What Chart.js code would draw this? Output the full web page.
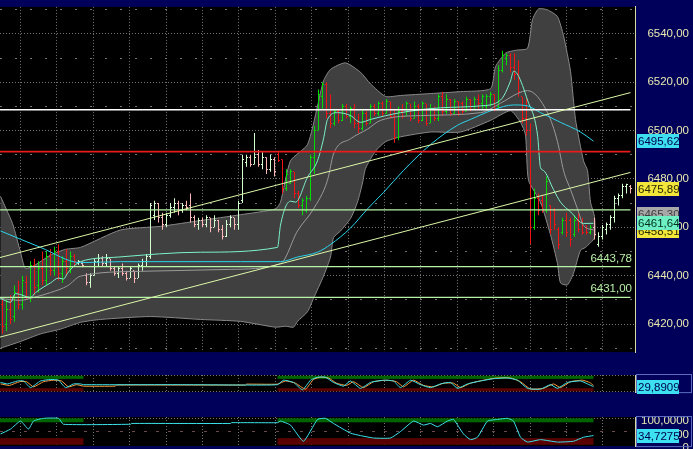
<!DOCTYPE html>
<html>
<head>
<meta charset="utf-8">
<title>Chart</title>
<script src="https://cdn.jsdelivr.net/npm/chart.js"></script>
<style>
  html, body { margin: 0; padding: 0; width: 693px; height: 449px; overflow: hidden; background: #00005a; }
  canvas { position: absolute; left: 0; }
  #main { top: 0; }
  #osc1 { top: 359px; }
  #osc2 { top: 399px; }
</style>
</head>
<body>
<canvas id="main" width="693" height="359"></canvas>
<canvas id="osc1" width="693" height="40"></canvas>
<canvas id="osc2" width="693" height="54"></canvas>
<script>
// price bars, one per slot
const opens = [
  6428,6420,6426,6423,6433,6428,6437,6431,6444,6436,
  6443,6438,6448,6442,6450,6441,6446,6443,6448,6445.5,
  6445,6440,6437,6440,6446,6447,6445,6447,6443,6441,
  6443,6441,6439,6442,6439,6444,6446,6448,6465,6470,
  6464,6461,6465,6468,6470,6467,6469,6469,6464,6461,
  6463,6461,6464,6460,6463,6459,6456,6461,6464,6461,
  6471,6487,6489,6486,6490,6486,6489,6484,6488,6490,
  6488,6476,6478,6483,6474,6469,6467,6472,6489,6500,
  6514,6519,6507,6503,6508,6504,6510,6506,6509,6503,
  6501,6507,6503,6510,6507,6511,6507,6512,6506,6497,
  6508,6506,6511,6505,6510,6504,6511,6503,6509,6505,
  6514,6508,6513,6507,6512,6511,6508,6513,6510,6513,
  6511,6510,6514,6515,6510,6525,6530,6531,6526,6523,
  6514,6505,6500,6460,6472,6471,6467,6469,6467,6459,
  6458,6463,6463,6457,6463,6462,6460,6458,6460,6453,
  6456,6459,6461,6464,6472,6473,6477,6477
];
const highs = [
  6431,6430,6432,6436,6438,6440,6440,6446,6447,6446,
  6450,6450,6451,6452,6453,6448,6451,6450,6449,6446.5,
  6446,6441,6441,6447,6449,6448,6449,6447,6444,6444,
  6445,6442,6444,6442,6445,6447,6449,6470,6471,6470,
  6466,6466,6470,6472,6471,6470,6471,6474,6465,6464,
  6464,6465,6464,6465,6463,6461,6463,6465,6464,6471,
  6490,6490,6490,6499,6492,6491,6489,6490,6489,6491,
  6488,6484,6484,6483,6475,6472,6473,6490,6502,6517,
  6520,6520,6515,6509,6509,6511,6511,6510,6511,6507,
  6509,6508,6511,6511,6512,6512,6513,6512,6509,6510,
  6511,6512,6511,6512,6511,6512,6511,6511,6510,6515,
  6516,6515,6513,6513,6512,6512,6514,6513,6514,6515,
  6515,6515,6516,6515,6527,6533,6532,6532,6532,6529,
  6514,6513,6503,6476,6474,6473,6481,6469,6468,6460,
  6464,6466,6464,6465,6466,6464,6461,6461,6464,6458,
  6461,6462,6465,6473,6474,6478,6478,6477.5
];
const lows = [
  6416,6417,6420,6421,6426,6426,6430,6429,6432,6433,
  6436,6436,6440,6440,6438,6437,6440,6441,6444,6444.5,
  6443.5,6436,6435,6440,6444,6444,6444,6442,6440,6439,
  6440,6438,6439,6437,6439,6442,6444,6447,6463,6462,
  6459,6460,6464,6466,6465,6466,6467,6462,6460,6459,
  6460,6460,6458,6460,6458,6455,6456,6460,6459,6459,
  6470,6485,6485,6486,6485,6484,6482,6483,6481,6487,
  6474,6475,6478,6472,6468,6465,6466,6471,6482,6500,
  6509,6505,6501,6502,6503,6504,6505,6503,6501,6499,
  6500,6502,6503,6506,6506,6506,6507,6505,6495,6496,
  6505,6506,6504,6505,6503,6504,6502,6503,6504,6504,
  6506,6507,6506,6507,6506,6507,6508,6508,6509,6509,
  6509,6509,6510,6508,6509,6524,6527,6524,6521,6514,
  6503,6498,6453,6459,6465,6466,6466,6457,6459,6451,
  6457,6456,6452,6456,6458,6457,6457,6457,6455,6452,
  6455,6457,6459,6462,6469,6472,6474,6474
];
const closes = [
  6419,6426,6422,6433,6428,6438,6431,6444,6435,6443,
  6438,6448,6442,6450,6441,6446,6443,6448,6446,6445.8,
  6444,6437,6440,6446,6447,6445,6447,6443,6441,6443,
  6441,6439,6443,6439,6444,6446,6448,6469,6470,6464,
  6461,6465,6468,6470,6467,6469,6468,6464,6461,6463,
  6461,6464,6460,6463,6459,6456,6461,6464,6461,6470,
  6488,6489,6486,6489,6486,6489,6484,6488,6483,6487.5,
  6476,6482,6483,6474,6469,6471,6472,6489,6500,6515,
  6519,6507,6503,6508,6504,6510,6506,6509,6503,6501,
  6507,6503,6510,6507,6511,6507,6512,6506,6497,6508,
  6506,6511,6505,6510,6504,6511,6503,6509,6505,6514,
  6508,6513,6507,6512,6507,6508,6513,6510,6513,6511,
  6514,6514,6515,6509,6525,6531,6531,6526,6523,6516,
  6505,6500,6460,6472,6467,6467,6479,6459,6461,6453,
  6463,6458,6455,6463,6459,6458,6458,6460,6457,6456,
  6460,6461,6464,6472,6473,6477,6477.5,6475.89
];
// bar slots traded outside the main session (drawn pale)
const offSession = [[19, 68], [148, 157]];

// bollinger band and moving averages: [slot, price]
const bandUpper = [[-0.5,6472.8],[2.5,6461.6],[4.5,6449.7],[5.75,6443.0],[8.25,6444.5],[12,6448.5],[15.75,6450.9],[19.5,6451.7],[29.5,6458.9],[39.5,6460.4],[49.5,6462.8],[59.5,6465.2],[68.25,6467.6],[69.5,6470.4],[72,6487.5],[76.25,6494.2],[78.75,6510.1],[80.25,6520.5],[82,6525.3],[85.75,6528.0],[89.5,6524.1],[92,6519.3],[95.75,6514.1],[99.5,6514.5],[107,6515.3],[114.5,6516.1],[122,6517.3],[123.25,6526.4],[125.75,6532.0],[128.25,6533.2],[131.25,6534.0],[132.5,6545.9],[134,6550.3],[136.25,6549.9],[138.75,6547.1],[140.25,6539.2],[142,6524.5],[143.25,6504.6],[145.25,6487.5],[146.25,6483.5],[147,6470.4],[148,6464.4]];
const bandLower = [[-0.5,6410.0],[4.5,6412.8],[9.5,6415.9],[14.5,6417.9],[19.5,6420.7],[24.5,6421.9],[37,6423.1],[49.5,6421.9],[59.5,6421.1],[68.25,6418.7],[70.75,6419.1],[72.75,6418.7],[73.75,6421.1],[76.25,6425.1],[77.75,6430.6],[80.25,6439.8],[82,6447.7],[82.75,6455.7],[84.5,6458.5],[87,6463.6],[88.75,6470.4],[90,6478.3],[90.75,6484.3],[93.25,6491.5],[95.75,6495.4],[99.5,6497.4],[107,6499.4],[114.5,6499.4],[122,6504.2],[127,6508.2],[129.5,6503.4],[130.75,6498.2],[131.5,6479.5],[134.5,6470.4],[137,6456.9],[138.75,6445.0],[139.5,6437.0],[141.25,6436.2],[142.75,6441.0],[144.5,6450.5],[145.75,6451.7],[148,6455.7]];
const bandMid = [[-0.5,6430.6],[4.5,6429.8],[7.75,6431.0],[12,6433.0],[16.25,6435.8],[19.5,6439.8],[34.5,6441.8],[57,6442.6],[69.5,6445.0],[73.75,6458.5],[77.75,6467.6],[81.25,6479.5],[82.75,6490.3],[87,6496.6],[91.25,6500.6],[94.5,6504.2],[104.5,6506.2],[119.5,6507.4],[124.5,6511.3],[128.75,6515.3],[131.25,6516.5],[136.25,6507.4],[138.75,6495.4],[140.25,6483.5],[142,6475.6],[143.75,6467.6],[145.25,6460.8],[147.75,6458.9]];
const maLong = [[-0.5,6458.5],[9.5,6451.7],[19.5,6445.4],[29.5,6445.8],[59.5,6445.8],[69.5,6445.8],[73.75,6447.7],[78.75,6449.7],[82,6452.9],[87,6459.7],[91.25,6467.6],[95.25,6474.4],[100.25,6483.5],[107,6494.2],[113.75,6502.2],[117,6504.6],[122.75,6508.6],[127.75,6510.6],[131.25,6510.2],[134.5,6507.4],[139.5,6503.4],[144.5,6499.4],[147.75,6495.62]];
const maShort = [[-0.5,6430.6],[2,6429.0],[3.25,6432.6],[7,6431.0],[8.25,6433.0],[12,6437.0],[14,6439.0],[15.25,6438.6],[16.25,6441.0],[17.75,6443.8],[19.5,6445.8],[29,6447.7],[49.5,6449.7],[68.75,6451.7],[69.5,6460.9],[72,6470.8],[73.25,6470.4],[76.25,6480.7],[78.75,6487.5],[80.25,6496.6],[81.25,6504.6],[83.75,6507.4],[87,6506.2],[89.5,6503.4],[92,6504.6],[99.5,6507.4],[109.5,6509.4],[119.5,6510.2],[124.5,6512.6],[127,6520.5],[127.75,6524.5],[128.75,6523.3],[131.25,6512.6],[133.75,6498.2],[134.5,6484.7],[135.25,6483.5],[137.75,6475.6],[139.5,6470.4],[142,6466.4],[145.25,6461.6],[147.75,6461.64]];

// drawn lines
const trendUpper = [[-0.625, 6447.5], [157, 6515.7]];
const trendLower = [[-0.625, 6414.6], [157, 6482.7]];
const levels = [6508.6, 6491.3, 6467.2, 6443.78, 6431.00];
const levelTags = [6443.78, 6431.00];
const priceBoxes = [6458.51, 6465.30, 6461.64, 6495.62, 6475.89];

// axes
const priceTicks = [6410,6420,6430,6440,6450,6460,6470,6480,6490,6500,6510,6520,6530,6540,6550];
const gridCols = [4.5,13.6,22.7,31.8,40.9,50,59.1,68.2,77.3,86.4,95.5,104.6,113.7,122.8,131.9,141,150.1];

// oscillators
const osc1Fast = [[-0.5,57.2],[1.25,47.6],[3.75,66.7],[5.25,66.7],[7,23.7],[9.5,66.7],[12,76.3],[14,71.5],[15.75,23.7],[17.75,47.6],[19.5,47.6],[20.25,42.8],[44.5,42.8],[60.75,40.4],[68.75,42.8],[70.25,71.5],[72.75,57.2],[75,9.3],[77,71.5],[78.75,90.7],[80.75,90.7],[82.75,57.2],[85.25,33.3],[87,66.7],[89.5,18.9],[92,57.2],[95.25,71.5],[97.75,66.7],[99.5,23.7],[102,71.5],[104.5,42.8],[107,23.7],[109.5,47.6],[112,57.2],[113.75,18.9],[116.25,47.6],[119.5,66.7],[122.75,81.1],[126.25,85.9],[128.75,71.5],[131.25,18.9],[134.5,14.1],[137,42.8],[138.75,18.9],[141.25,57.2],[144.5,66.7],[146.25,47.6],[147.75,29.89]];
const osc1Slow = [[-0.5,47.6],[1.75,38.0],[4.25,62.0],[6,62.0],[7.75,28.5],[10.25,62.0],[12.75,71.5],[14.75,66.7],[16.5,28.5],[18.5,42.8],[20.25,33.3],[28.25,33.3],[28.5,40.4],[60.75,40.4],[61,46.2],[68.75,46.2],[70.75,66.7],[73.25,52.4],[75.75,14.1],[77.75,76.3],[79.5,90.7],[81.5,85.9],[83.5,52.4],[86,38.0],[87.75,62.0],[90.25,23.7],[92.75,62.0],[96,71.5],[98.5,62.0],[100.25,28.5],[102.75,71.5],[105.25,38.0],[107.75,28.5],[110.25,52.4],[112.75,52.4],[114.5,23.7],[117,52.4],[120.25,71.5],[123.5,85.9],[127,85.9],[129.5,62.0],[132,14.1],[135.25,18.9],[137.75,47.6],[139.5,23.7],[142,62.0],[145,71.5],[146.75,57.2],[147.75,38.0]];
const osc2Line = [[-0.5,40.8],[2,59.2],[4.5,89.7],[6.5,59.2],[7.75,89.7],[10.25,100],[14,100],[15.25,77.5],[32,77.5],[32.25,80.6],[57,80.6],[57.25,83.6],[68.75,83.6],[69.5,89.7],[72,74.4],[75.25,13.3],[78.75,95.8],[80.75,100],[82.75,80.6],[87,43.9],[89.5,34.7],[92.75,25.6],[97,25.6],[99.5,50],[102.75,89.7],[105.25,74.4],[107,80.6],[108.75,68.3],[111.25,89.7],[112.75,95.8],[115.25,40.8],[117,19.4],[118.75,28.6],[121.25,89.7],[123.75,95.8],[126.25,100],[127.75,89.7],[129.5,28.6],[131.25,10.3],[134.5,19.4],[138.75,10.3],[142.75,13.3],[145.25,28.6],[147.75,34.7275]];
const activeZones = [[-0.625, 20.25], [68.75, 147.75]];
const osc1Ticks = [0, 50, 100];
const osc2Ticks = [0, 50, 100];
const osc1Last = 29.8909;
const osc2Last = 34.7275;

const GRID = '#747474';
const AXIS_TXT = '#e8e8b0';
const AXIS_LINE = '#d8d8a0';
const fmt = (v, d) => v.toFixed(d).replace('.', ',');
const pts = a => a.map(([x, y]) => ({ x, y }));

Chart.defaults.font.family = '"Liberation Sans", Arial, sans-serif';
Chart.defaults.font.size = 11.5;

const isOff = i => offSession.some(([a, b]) => i >= a && i <= b);
const barColors = opens.map((o, i) => {
  const up = closes[i] >= o;
  if (isOff(i)) return up ? '#d4ffd0' : '#ffb6b6';
  return up ? '#00dc00' : '#f01414';
});

const plotBg = {
  id: 'plotBg',
  beforeDraw(chart) {
    const a = chart.chartArea;
    chart.ctx.save();
    chart.ctx.fillStyle = '#000000';
    chart.ctx.fillRect(a.left, a.top, a.right - a.left, a.bottom - a.top);
    chart.ctx.restore();
  }
};

// open / close ticks next to each high-low bar
const ohlcTicks = {
  id: 'ohlcTicks',
  afterDatasetDraw(chart, args) {
    if (args.index !== 1) return;
    const ys = chart.scales.y;
    const ctx = chart.ctx;
    ctx.save();
    args.meta.data.forEach((el, i) => {
      const x = Math.floor(el.x);
      ctx.fillStyle = barColors[i];
      ctx.fillRect(x - 1, Math.floor(ys.getPixelForValue(opens[i])), 1, 1);
      ctx.fillRect(x + 1, Math.floor(ys.getPixelForValue(closes[i])), 1, 1);
    });
    ctx.restore();
  }
};

const boxStyles = [
  { bg: '#f2e63a', fg: '#2a2a00' },
  { bg: '#a8a8a8', fg: '#3c3c3c' },
  { bg: '#6ef0c4', fg: '#00301c' },
  { bg: '#3ce0f0', fg: '#00004a' },
  { bg: '#f2e63a', fg: '#2a2a00' }
];

const priceTags = {
  id: 'priceTags',
  afterDraw(chart) {
    const { ctx, chartArea: a } = chart;
    const ys = chart.scales.y;
    ctx.save();
    ctx.font = '11.5px "Liberation Sans", Arial, sans-serif';
    ctx.textAlign = 'right';
    ctx.textBaseline = 'alphabetic';
    ctx.fillStyle = '#b8f0a8';
    levelTags.forEach(v => ctx.fillText(fmt(v, 2), a.right - 3, ys.getPixelForValue(v) - 5));
    ctx.textAlign = 'left';
    ctx.textBaseline = 'middle';
    priceBoxes.forEach((v, k) => {
      const y = Math.round(ys.getPixelForValue(v));
      ctx.fillStyle = boxStyles[k].bg;
      ctx.fillRect(a.right + 2, y - 7, 42, 14);
      ctx.fillStyle = boxStyles[k].fg;
      ctx.fillText(fmt(v, 2), a.right + 3, y + 1);
    });
    ctx.restore();
  }
};

function xAxis() {
  return {
    type: 'linear', min: -0.625, max: 158.125, offset: false, bounds: 'data',
    afterBuildTicks: s => { s.ticks = gridCols.map(v => ({ value: v })); },
    afterFit: s => { s.height = 0; },
    ticks: { display: false },
    grid: { color: GRID, drawTicks: false, offset: false },
    border: { display: false, dash: [1, 2] }
  };
}

const lineDs = (data, color, extra) => Object.assign({
  type: 'line', data: pts(data), borderColor: color, borderWidth: 1,
  pointRadius: 0, fill: false, cubicInterpolationMode: 'monotone'
}, extra || {});

const levelColors = ['#ffffff', '#e81c1c', '#b8f4a8', '#b8f4a8', '#b8f4a8'];
const levelWidths = [1.6, 1.6, 1.2, 1.2, 1.2];

new Chart(document.getElementById('main'), {
  type: 'line',
  data: {
    datasets: [
      lineDs(bandUpper.concat(bandLower.slice().reverse()), '#888888',
        { order: 5, fill: 'shape', backgroundColor: '#404040', cubicInterpolationMode: 'default', tension: 0.2 }),
      {
        type: 'bar', order: 4,
        data: highs.map((h, i) => ({ x: i, y: [lows[i], h] })),
        backgroundColor: barColors, barThickness: 1, borderWidth: 0, inflateAmount: 0
      },
      lineDs(bandMid, '#9a9a9a', { order: 3 }),
      lineDs(maLong, '#2ad4ea', { order: 2 }),
      lineDs(maShort, '#7cf2c8', { order: 2 }),
      lineDs(trendUpper, '#dcf8a8', { order: 1, cubicInterpolationMode: 'default' }),
      lineDs(trendLower, '#dcf8a8', { order: 1, cubicInterpolationMode: 'default' }),
      ...levels.map((v, k) => lineDs([[-0.625, v], [157, v]], levelColors[k],
        { order: 1, borderWidth: levelWidths[k], cubicInterpolationMode: 'default' }))
    ]
  },
  options: {
    responsive: false, animation: false, events: [],
    layout: { padding: { top: 0, right: 4, bottom: 0, left: 0 }, autoPadding: false },
    plugins: { legend: { display: false }, tooltip: { enabled: false } },
    scales: {
      x: xAxis(),
      y: {
        position: 'right', min: 6408.4, max: 6551.13, bounds: 'data',
        afterBuildTicks: s => { s.ticks = priceTicks.map(v => ({ value: v })); },
        afterFit: s => { s.width = 54; },
        ticks: { color: AXIS_TXT, crossAlign: 'far', padding: 0,
                 callback: v => (v % 20 === 0 ? fmt(v, 2) : '') },
        grid: { color: GRID, drawTicks: false },
        border: { display: true, color: AXIS_LINE, width: 1,
                  dash: c => (c.tick && c.tick.value % 20 !== 0 ? [2, 13] : [1, 2]) }
      }
    }
  },
  plugins: [plotBg, ohlcTicks, priceTags]
});

function oscChart(id, padTop, ticks, label, gridStyle, datasets, bands, last, labelOffset) {
  const zones = {
    id: 'zones',
    beforeDatasetsDraw(chart) {
      const { ctx, scales: { x, y } } = chart;
      ctx.save();
      activeZones.forEach(([a, b]) => {
        const x0 = x.getPixelForValue(a), x1 = x.getPixelForValue(b);
        ctx.fillStyle = '#006400';
        ctx.fillRect(x0, y.getPixelForValue(100), x1 - x0, y.getPixelForValue(bands[0]) - y.getPixelForValue(100));
        ctx.fillStyle = '#5a0000';
        ctx.fillRect(x0, y.getPixelForValue(bands[1]), x1 - x0, y.getPixelForValue(0) - y.getPixelForValue(bands[1]));
      });
      ctx.restore();
    }
  };
  const frame = {
    id: 'frame',
    afterDraw(chart) {
      const { ctx, chartArea: a } = chart;
      const yv = Math.round(chart.scales.y.getPixelForValue(last));
      ctx.save();
      ctx.strokeStyle = '#5a6cc0';
      ctx.strokeRect(a.right + 1.5, a.top - 0.5, 55, a.bottom - a.top + 1);
      ctx.fillStyle = '#3ce0f0';
      ctx.fillRect(a.right + 2, yv - 7, 42, 14);
      ctx.fillStyle = '#00004a';
      ctx.font = '11.5px "Liberation Sans", Arial, sans-serif';
      ctx.textBaseline = 'middle';
      ctx.fillText(fmt(last, 4), a.right + 3, yv + 1);
      ctx.restore();
    }
  };
  new Chart(document.getElementById(id), {
    type: 'line',
    data: { datasets },
    options: {
      responsive: false, animation: false, events: [],
      layout: { padding: { top: padTop, right: 4, bottom: 1, left: 0 }, autoPadding: false },
      plugins: { legend: { display: false }, tooltip: { enabled: false } },
      scales: {
        x: xAxis(),
        y: {
          position: 'right', min: -5, max: 105, bounds: 'data',
          afterBuildTicks: s => { s.ticks = ticks.map(v => ({ value: v })); },
          afterFit: s => { s.width = 54; },
          ticks: { color: AXIS_TXT, crossAlign: 'far', padding: 0, labelOffset, callback: label },
          grid: { drawTicks: false, color: c => gridStyle(c.tick ? c.tick.value : -1).color },
          border: { display: true, color: AXIS_LINE, width: 1,
                    dash: c => gridStyle(c.tick ? c.tick.value : -1).dash }
        }
      }
    },
    plugins: [plotBg, zones, frame]
  });
}

oscChart('osc1', 16, osc1Ticks,
  v => (v === 50 ? fmt(v, 4) : ''),
  v => (v === 50 ? { color: 'rgba(0,0,0,0)', dash: [] } : { color: GRID, dash: [1, 2] }),
  [
    lineDs(osc1Fast, '#3ce4ec', { order: 1, cubicInterpolationMode: 'default', tension: 0.15 }),
    lineDs(osc1Slow, '#ff9a3c', { order: 2, cubicInterpolationMode: 'default', tension: 0.15 })
  ],
  [80, 20], osc1Last, -1);

oscChart('osc2', 18, osc2Ticks,
  v => (v === 0 ? '0' : fmt(v, 4)),
  v => (v === 100 ? { color: GRID, dash: [1, 2] }
        : v === 50 ? { color: '#6a4a4a', dash: [3, 9] }
        : { color: 'rgba(0,0,0,0)', dash: [] }),
  [lineDs(osc2Line, '#3ce4ec', { order: 1, cubicInterpolationMode: 'default', tension: 0.15 })],
  [85, 25], osc2Last, 3);
</script>
</body>
</html>
